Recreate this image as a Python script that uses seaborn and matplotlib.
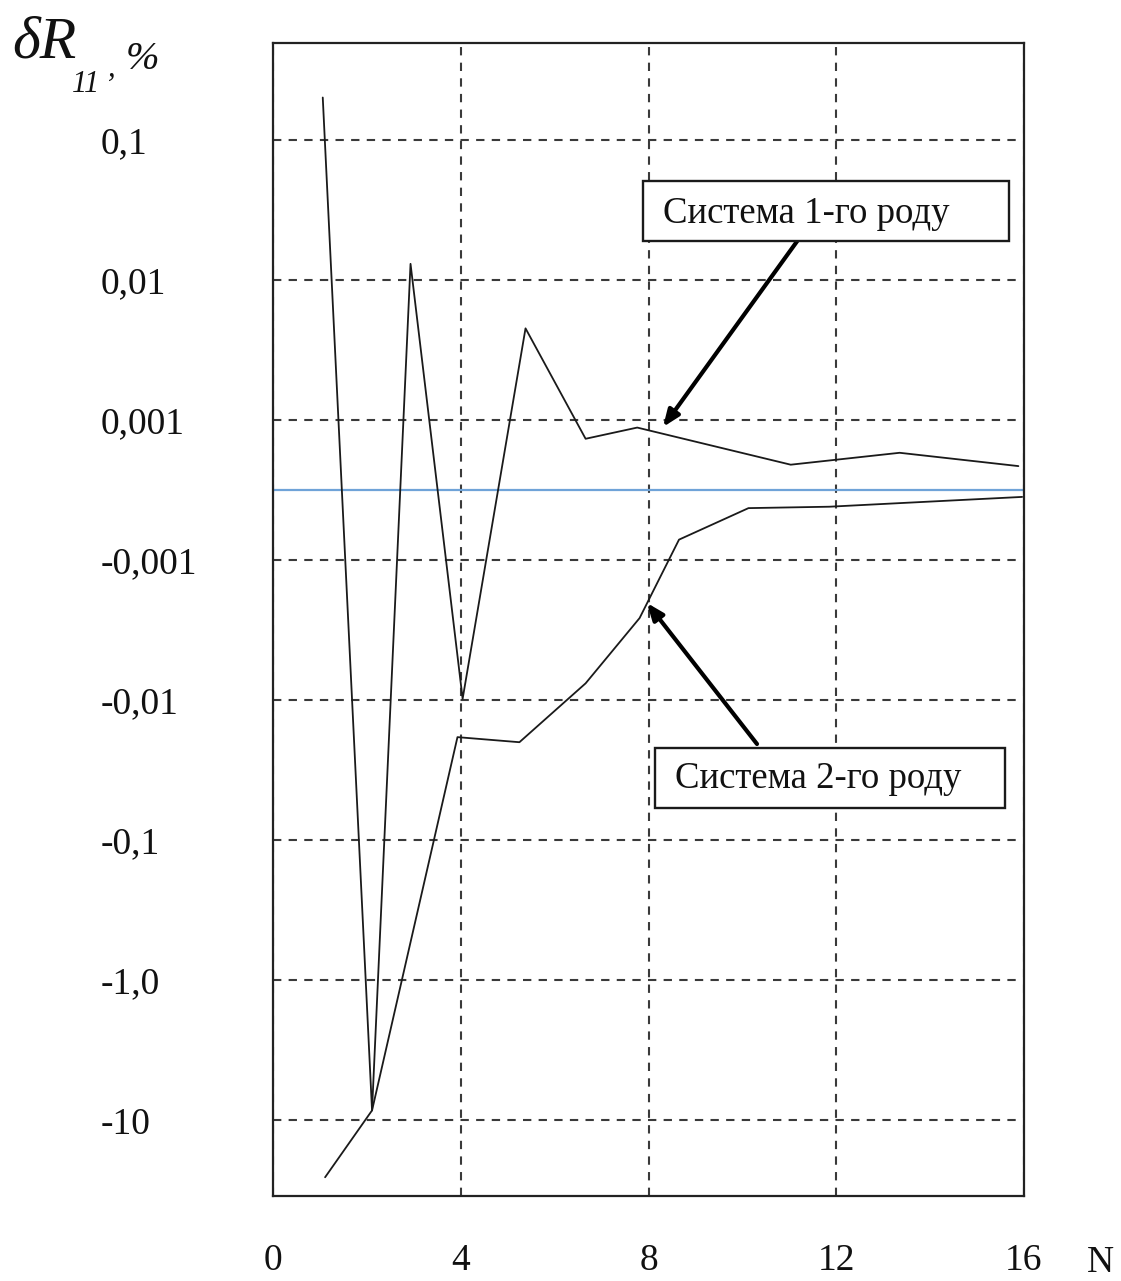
import numpy as np
import pandas as pd
import matplotlib
matplotlib.use("Agg")
import matplotlib.pyplot as plt
import seaborn as sns
from matplotlib.patches import Rectangle
from matplotlib.ticker import NullLocator

# ---------------- data ----------------
n_sys1 = [1.06, 2.11, 2.93, 4.04, 5.38, 6.66, 7.76, 11.03, 13.35, 15.88]
d_sys1 = [0.20, -8.5, 0.013, -0.0098, 0.0045, 0.00073, 0.00089, 0.00036, 0.00053, 0.00034]

n_sys2 = [1.11, 2.11, 3.93, 5.25, 6.66, 7.81, 8.65, 10.13, 11.85, 13.31, 15.96]
d_sys2 = [-25.5, -8.5, -0.0184, -0.020, -0.0076, -0.0026, -0.00071, -0.00026, -0.00024, -0.00019, -0.00010]

series_names = ["Система 1-го роду", "Система 2-го роду"]

y_ticks = [0.1, 0.01, 0.001, -0.001, -0.01, -0.1, -1.0, -10]
y_tick_labels = ["0,1", "0,01", "0,001", "-0,001", "-0,01", "-0,1", "-1,0", "-10"]
x_ticks = [0, 4, 8, 12, 16]
x_tick_labels = ["0", "4", "8", "12", "16"]

df = pd.DataFrame({
    "N": n_sys1 + n_sys2,
    "dR": d_sys1 + d_sys2,
    "series": [series_names[0]] * len(n_sys1) + [series_names[1]] * len(n_sys2),
})

# ---------------- custom "signed log" scale ----------------
LT = 1e-3

def fwd(y):
    y = np.asarray(y, dtype=float)
    a = np.abs(y)
    big = np.sign(y) * (0.5 + np.log10(np.maximum(a, 1e-300) / LT))
    return np.where(a >= LT, big, 0.5 * y / LT)

def inv(f):
    f = np.asarray(f, dtype=float)
    a = np.minimum(np.abs(f), 300)
    big = np.sign(f) * LT * 10 ** (a - 0.5)
    return np.where(np.abs(f) >= 0.5, big, f * 2 * LT)

# ---------------- figure ----------------
sns.set_style("white")
plt.rcParams["font.family"] = ["Liberation Serif", "DejaVu Serif"]

W, H = 1121, 1281
fig = plt.figure(figsize=(W / 100, H / 100), dpi=100)

def fx(px):
    return px / W

def fy(py):
    return 1 - py / H

ax = fig.add_axes([fx(273), fy(1196), fx(1024) - fx(273), fy(43) - fy(1196)])
ax.set_yscale("function", functions=(fwd, inv))

sns.lineplot(data=df, x="N", y="dR", hue="series", palette=["#1a1a1a", "#1a1a1a"],
             linewidth=1.3, legend=False, ax=ax, sort=False, estimator=None, zorder=3)

ax.axhline(0, color="#6fa3d8", lw=1.6, zorder=2)

ax.set_xlim(0, 16)
ax.set_ylim(-34.7, 0.49)
ax.set_yticks(y_ticks)
ax.set_yticklabels(y_tick_labels)
ax.yaxis.set_minor_locator(NullLocator())
ax.set_xticks(x_ticks)
ax.set_xticklabels(x_tick_labels)
ax.xaxis.set_minor_locator(NullLocator())
ax.set_xlabel("")
ax.set_ylabel("")

ax.grid(True, which="major", color="#3a3a3a", linestyle=(0, (4, 3.5)), linewidth=1.5)
for s in ax.spines.values():
    s.set_color("#222222")
    s.set_linewidth(1.6)
    s.set_visible(True)

ax.tick_params(axis="y", length=0, pad=124, labelsize=27, colors="#111111")
for lbl in ax.get_yticklabels():
    lbl.set_horizontalalignment("left")
ax.tick_params(axis="x", length=0, pad=34, labelsize=27, colors="#111111")

# axis name texts
fig.text(fx(1100), fy(1263), "N", fontsize=27, ha="center", va="center", color="#111111")
fig.text(fx(12), fy(57), "δR", fontsize=43, style="italic", ha="left", va="baseline", color="#111111")
fig.text(fx(72), fy(92), "11", fontsize=22, style="italic", ha="left", va="baseline", color="#111111")
fig.text(fx(108), fy(76), ",", fontsize=22, style="italic", ha="left", va="baseline", color="#111111")
fig.text(fx(126), fy(69), "%", fontsize=29, style="italic", ha="left", va="baseline", color="#111111")

# annotation boxes
def box(x0, y0, x1, y1, tx, ty, text):
    fig.add_artist(Rectangle((fx(x0), fy(y1)), fx(x1) - fx(x0), fy(y0) - fy(y1),
                             transform=fig.transFigure, facecolor="white",
                             edgecolor="#1a1a1a", lw=1.7, zorder=5))
    fig.text(fx(tx), fy(ty), text, fontsize=26.5, ha="left", va="baseline",
             color="#111111", zorder=6)

box(643, 181, 1009, 241, 663, 223, series_names[0])
box(655, 748, 1005, 808, 675, 788, series_names[1])

arrow_kw = dict(arrowstyle="-|>,head_length=1.0,head_width=0.4", color="black", lw=3.0,
                shrinkA=0, shrinkB=0)
ax.annotate("", xy=(fx(663), fy(427)), xycoords="figure fraction",
            xytext=(fx(798), fy(240)), textcoords="figure fraction",
            arrowprops=arrow_kw, zorder=7)
ax.annotate("", xy=(fx(647), fy(603)), xycoords="figure fraction",
            xytext=(fx(757), fy(744)), textcoords="figure fraction",
            arrowprops=arrow_kw, zorder=7)

fig.savefig("out.png", dpi=100)
